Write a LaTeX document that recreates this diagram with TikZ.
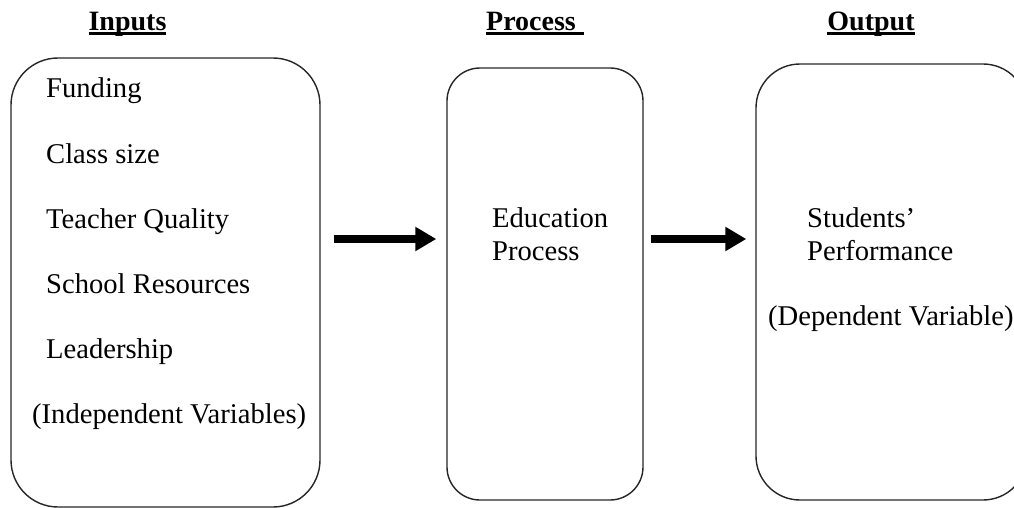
\documentclass[tikz,border=0pt]{standalone}
\usepackage{fontspec}
\setmainfont{Liberation Serif}
\usetikzlibrary{arrows.meta}
\newcommand{\hdul}[2][0pt]{\setbox0\hbox{#2\hspace{#1}}\rlap{\rule[-4pt]{\wd0}{3pt}}\box0}
\tikzset{
  box/.style={draw=black!85, line width=1.4pt, fill=none, inner sep=0pt},
  txt/.style={anchor=base west, inner sep=0pt, font=\fontsize{28.6}{33}\selectfont},
  head/.style={anchor=base, inner sep=0pt, font=\fontsize{28}{33}\selectfont\bfseries},
  bigarrow/.style={line width=7.5pt, -{Triangle[length=21pt,width=23pt]}}
}
\begin{document}
\begin{tikzpicture}[x=1pt,y=-1pt]
\useasboundingbox (0,0) rectangle (1014,508);
\clip (0,0) rectangle (1014,508);
% headings
\node[head] (h1) at (127.5,31) {\hdul{Inputs}};
\node[head] (h2) at (535,31) {\hdul[8pt]{Process}};
\node[head] (h3) at (871,31) {\hdul{Output}};
% boxes
\node[box, rounded corners=47pt, minimum width=309pt, minimum height=449pt] (b1) at (165.5,282.5) {};
\node[box, rounded corners=33pt, minimum width=196pt, minimum height=432pt] (b2) at (545,284) {};
\node[box, rounded corners=44pt, minimum width=271pt, minimum height=436pt] (b3) at (891.5,282) {};
% inputs text
\node[txt] (t1) at (46,98) {Funding};
\node[txt] (t2) at (46,163) {Class size};
\node[txt] (t3) at (46,228) {Teacher Quality};
\node[txt] (t4) at (46,293) {School Resources};
\node[txt] (t5) at (46,358) {Leadership};
\node[txt] (t6) at (32,423) {(Independent Variables)};
% process text
\node[txt] (p1) at (492,227) {Education};
\node[txt] (p2) at (492,260) {Process};
% output text
\node[txt] (o1) at (807,227) {Students’};
\node[txt] (o2) at (807,260) {Performance};
\node[txt] (o3) at (768,325) {(Dependent Variable)};
% arrows
\coordinate (ay) at (0,239);
\draw[bigarrow, shorten <=13pt, shorten >=10pt] (b1.east |- ay) -- (b2.west |- ay);
\draw[bigarrow, shorten <=7pt, shorten >=9pt] (b2.east |- ay) -- (b3.west |- ay);
\end{tikzpicture}
\end{document}
